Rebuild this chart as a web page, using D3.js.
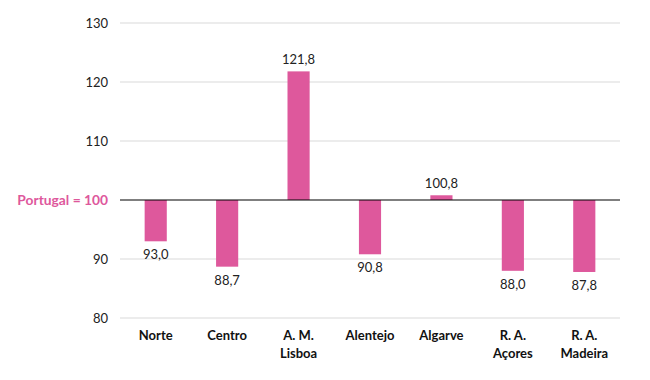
<!DOCTYPE html>
<html><head><meta charset="utf-8">
<script src="https://cdn.jsdelivr.net/npm/d3@7"></script>
<style>body{margin:0;background:#fff}svg{display:block}</style>
</head><body><svg id="c" width="650" height="380"></svg>
<script>
const categories = [["Norte"],["Centro"],["A. M.","Lisboa"],["Alentejo"],["Algarve"],["R. A.","Açores"],["R. A.","Madeira"]];
const values = [93.0, 88.7, 121.8, 90.8, 100.8, 88.0, 87.8];
const yTicks = [80, 90, 110, 120, 130];
const baseline = 100;
const baselineLabel = "Portugal = 100";

const svg = d3.select("#c");
const font = "Lato, 'Open Sans', sans-serif";
const x = d3.scaleBand().domain(d3.range(categories.length)).range([120, 620]).paddingInner(0.69).paddingOuter(0.345);
const y = d3.scaleLinear().domain([80, 130]).range([318, 23]);
const color = "#DE589C";

svg.append("g").selectAll("line").data(yTicks).join("line")
  .attr("x1", 120).attr("x2", 620).attr("y1", d => y(d)).attr("y2", d => y(d))
  .attr("stroke", "#d9d9d9").attr("stroke-width", 1);
svg.append("g").selectAll("text").data(yTicks).join("text")
  .attr("x", 108).attr("y", d => y(d)).attr("dy", "0.35em").attr("text-anchor", "end")
  .attr("font-family", font).attr("font-size", 13).attr("fill", "#222").text(d => d);

svg.append("g").selectAll("rect").data(values).join("rect")
  .attr("x", (d, i) => x(i)).attr("width", x.bandwidth())
  .attr("y", d => y(Math.max(d, baseline))).attr("height", d => Math.abs(y(d) - y(baseline)))
  .attr("fill", color);

svg.append("line").attr("x1", 120).attr("x2", 620).attr("y1", y(baseline)).attr("y2", y(baseline))
  .attr("stroke", "#000").attr("stroke-width", 1.2);
svg.append("text").attr("x", 108).attr("y", y(baseline)).attr("dy", "0.35em").attr("text-anchor", "end")
  .attr("font-family", font).attr("font-size", 13.8).attr("font-weight", "bold").attr("fill", color).text(baselineLabel);

const fmt = d => d.toFixed(1).replace(".", ",");
svg.append("g").selectAll("text").data(values).join("text")
  .attr("x", (d, i) => x(i) + x.bandwidth() / 2)
  .attr("y", d => d >= baseline ? y(d) - 7 : y(d) + 18)
  .attr("text-anchor", "middle").attr("font-family", font).attr("font-size", 13).attr("fill", "#222")
  .text(d => fmt(d));

const lab = svg.append("g").selectAll("text").data(categories).join("text")
  .attr("text-anchor", "middle").attr("font-family", font).attr("font-size", 13).attr("font-weight", "bold").attr("fill", "#111");
lab.each(function(d, i) {
  d3.select(this).selectAll("tspan").data(d).join("tspan")
    .attr("x", x(i) + x.bandwidth() / 2).attr("y", (t, j) => 340 + j * 18).text(t => t);
});
</script></body></html>
